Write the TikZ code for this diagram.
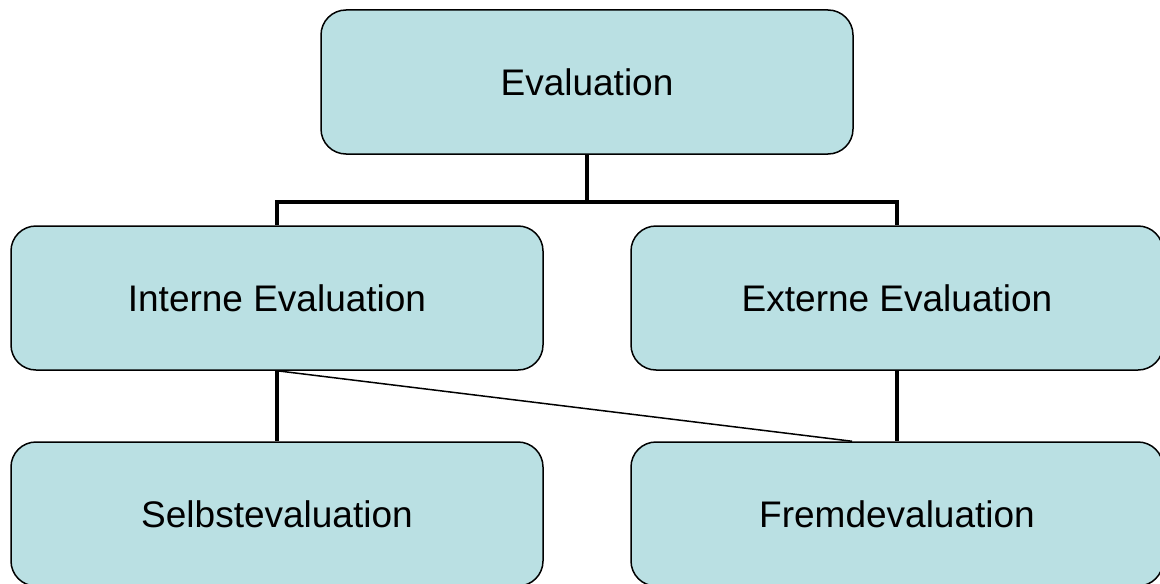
\documentclass[tikz,border=0pt]{standalone}
\usepackage{fontspec}
\setmainfont{Liberation Sans}
\usepackage{tikz}
\definecolor{boxfill}{RGB}{186,224,227}
\tikzset{x=0.5pt, y=-0.5pt, % One unit is one pixel of the reference, y pointing down
every box/.style={ % Sets the properties for each box
draw=black, line width=0.75pt,
fill=boxfill,
rounded corners=12.5pt,
minimum width=266pt, minimum height=72pt,
font=\fontsize{18.5}{22}\selectfont},
tree/.style={ % Thick tree links
draw, line width=2.1pt},
cross/.style={ % Thin diagonal link
draw, line width=0.75pt}}
\begin{document}
\begin{tikzpicture}
    \useasboundingbox (0,0) rectangle (1160,583);

    \node[every box] (ev) at (587,82) {Evaluation};
    \node[every box] (int) at (277,298) {Interne Evaluation};
    \node[every box] (ext) at (897,298) {Externe Evaluation};
    \node[every box] (self) at (277,514) {Selbstevaluation};
    \node[every box] (fremd) at (897,514) {Fremdevaluation};

    \coordinate (bus) at (ev.south |- 0,202);
    \coordinate (fremd-tip) at ([xshift=-22.5pt]fremd.north);

    \draw[tree] (ev.south) -- (bus) -| (int.north);
    \draw[tree] (bus) -| (ext.north);
    \draw[tree] (int.south) -- (self.north);
    \draw[tree] (ext.south) -- (fremd.north);
    \draw[cross] (int.south) -- (fremd-tip);

\end{tikzpicture}
\end{document}
